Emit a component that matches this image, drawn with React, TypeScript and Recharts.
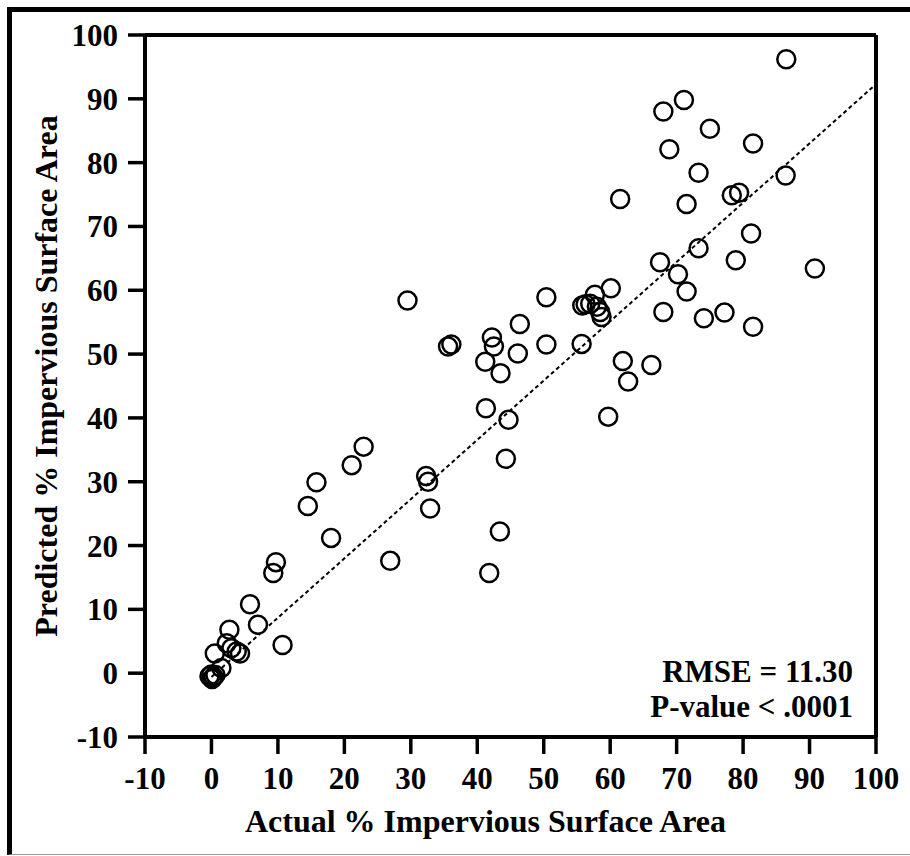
import { ScatterChart, Scatter, XAxis, YAxis, ReferenceLine } from "recharts";

// actual vs predicted impervious surface area (%)
const actual = [
  86.5, 71.1, 68.0, 75.0, 68.9, 81.5, 73.3, 86.4, 61.5, 71.5, 78.3, 79.4, 81.2, 73.3, 67.5, 70.2,
  71.5, 78.9, 90.8, 60.1, 68.0, 74.1, 77.2, 81.5, 61.9, 66.2, 62.7, 59.7, 29.5, 50.4, 55.8, 56.3,
  57.0, 57.7, 58.0, 58.5, 58.7, 46.4, 42.2, 42.5, 35.6, 36.1, 50.4, 55.7, 46.1, 41.2, 43.5, 41.3,
  44.7, 44.3, 32.3, 32.6, 32.9, 43.4, 41.8, 22.9, 21.1, 15.8, 14.5, 18.0, 26.9, 9.7, 9.3, 5.8,
  7.0, 10.7, 2.7, 2.3, 3.0, 3.8, 4.3, 0.5, 1.5, -0.3, 0.0, 0.3, 0.1, 0.6,
];
const predicted = [
  96.2, 89.8, 88.0, 85.3, 82.1, 83.0, 78.4, 78.0, 74.3, 73.5, 74.9, 75.3, 68.9, 66.6, 64.4, 62.5,
  59.8, 64.7, 63.4, 60.3, 56.6, 55.6, 56.5, 54.3, 48.9, 48.3, 45.7, 40.2, 58.4, 58.9, 57.6, 57.8,
  57.9, 59.3, 57.4, 56.6, 55.8, 54.7, 52.6, 51.2, 51.2, 51.5, 51.5, 51.6, 50.1, 48.8, 47.0, 41.5,
  39.7, 33.6, 30.9, 30.0, 25.8, 22.2, 15.7, 35.5, 32.6, 29.9, 26.2, 21.2, 17.6, 17.4, 15.7, 10.8,
  7.6, 4.4, 6.8, 4.7, 3.9, 3.4, 3.1, 3.1, 0.8, -0.5, -0.2, -0.6, -0.9, -0.3,
];
const ticks = [-10, 0, 10, 20, 30, 40, 50, 60, 70, 80, 90, 100];
const fitX = [0, 100];
const fitY = [-0.6, 92.3];

const points = actual.map((x, i) => ({ x, y: predicted[i] }));
const fitLine = fitX.map((x, i) => ({ x, y: fitY[i] }));

const font = '"Liberation Serif", "Times New Roman", serif';
const tickStyle = { fill: "#000", fontSize: 31, fontWeight: 700, fontFamily: font };
const titleStyle = { fill: "#000", fontSize: 32, fontWeight: 700, fontFamily: font };

const Ring = (p: any) => (
  <circle cx={p.cx} cy={p.cy} r={9} fill="none" stroke="#000" strokeWidth={2.5} />
);

export default function App() {
  return (
    <div
      style={{
        position: "absolute", left: 0, top: 0, width: 910, height: 856,
        background: "#fff", overflow: "hidden", fontFamily: font,
      }}
    >
      <div
        style={{
          position: "absolute", left: 7, top: 7, width: 903, height: 848, boxSizing: "border-box",
          borderTop: "5px solid #000", borderLeft: "5px solid #000", borderBottom: "1px solid #999",
        }}
      />
      <div style={{ position: "absolute", left: 0, top: 0 }}>
        <ScatterChart width={910} height={856} margin={{ top: 35, right: 34, bottom: 9, left: 10 }}>
          <XAxis
            type="number" dataKey="x" domain={[-10, 100]} ticks={ticks} allowDataOverflow
            height={110} tickSize={17} tickMargin={13} tick={tickStyle}
            axisLine={{ stroke: "#000", strokeWidth: 4 }}
            tickLine={{ stroke: "#000", strokeWidth: 3.5 }}
            label={{
              value: "Actual % Impervious Surface Area", position: "insideBottom", offset: 15, dx: -25,
              style: titleStyle,
            }}
          />
          <YAxis
            type="number" dataKey="y" domain={[-10, 100]} ticks={ticks} allowDataOverflow
            width={135} tickSize={17} tickMargin={10} tick={tickStyle}
            axisLine={{ stroke: "#000", strokeWidth: 4 }}
            tickLine={{ stroke: "#000", strokeWidth: 3.5 }}
            label={{
              value: "Predicted % Impervious Surface Area", position: "center", angle: -90, dx: -32, dy: -10,
              style: { ...titleStyle, textAnchor: "middle" },
            }}
          />
          <ReferenceLine y={100} stroke="#000" strokeWidth={4} />
          <ReferenceLine x={100} stroke="#000" strokeWidth={4} />
          <ReferenceLine
            segment={fitLine} stroke="#000" strokeWidth={2} strokeDasharray="4 3"
          />
          <Scatter data={points} shape={Ring} isAnimationActive={false} />
        </ScatterChart>
      </div>
      <div
        style={{
          position: "absolute", right: 57, top: 654, textAlign: "right",
          fontSize: 31, fontWeight: 700, lineHeight: "35px", color: "#000", whiteSpace: "nowrap",
        }}
      >
        <div>RMSE = 11.30</div>
        <div>P-value &lt; .0001</div>
      </div>
    </div>
  );
}
